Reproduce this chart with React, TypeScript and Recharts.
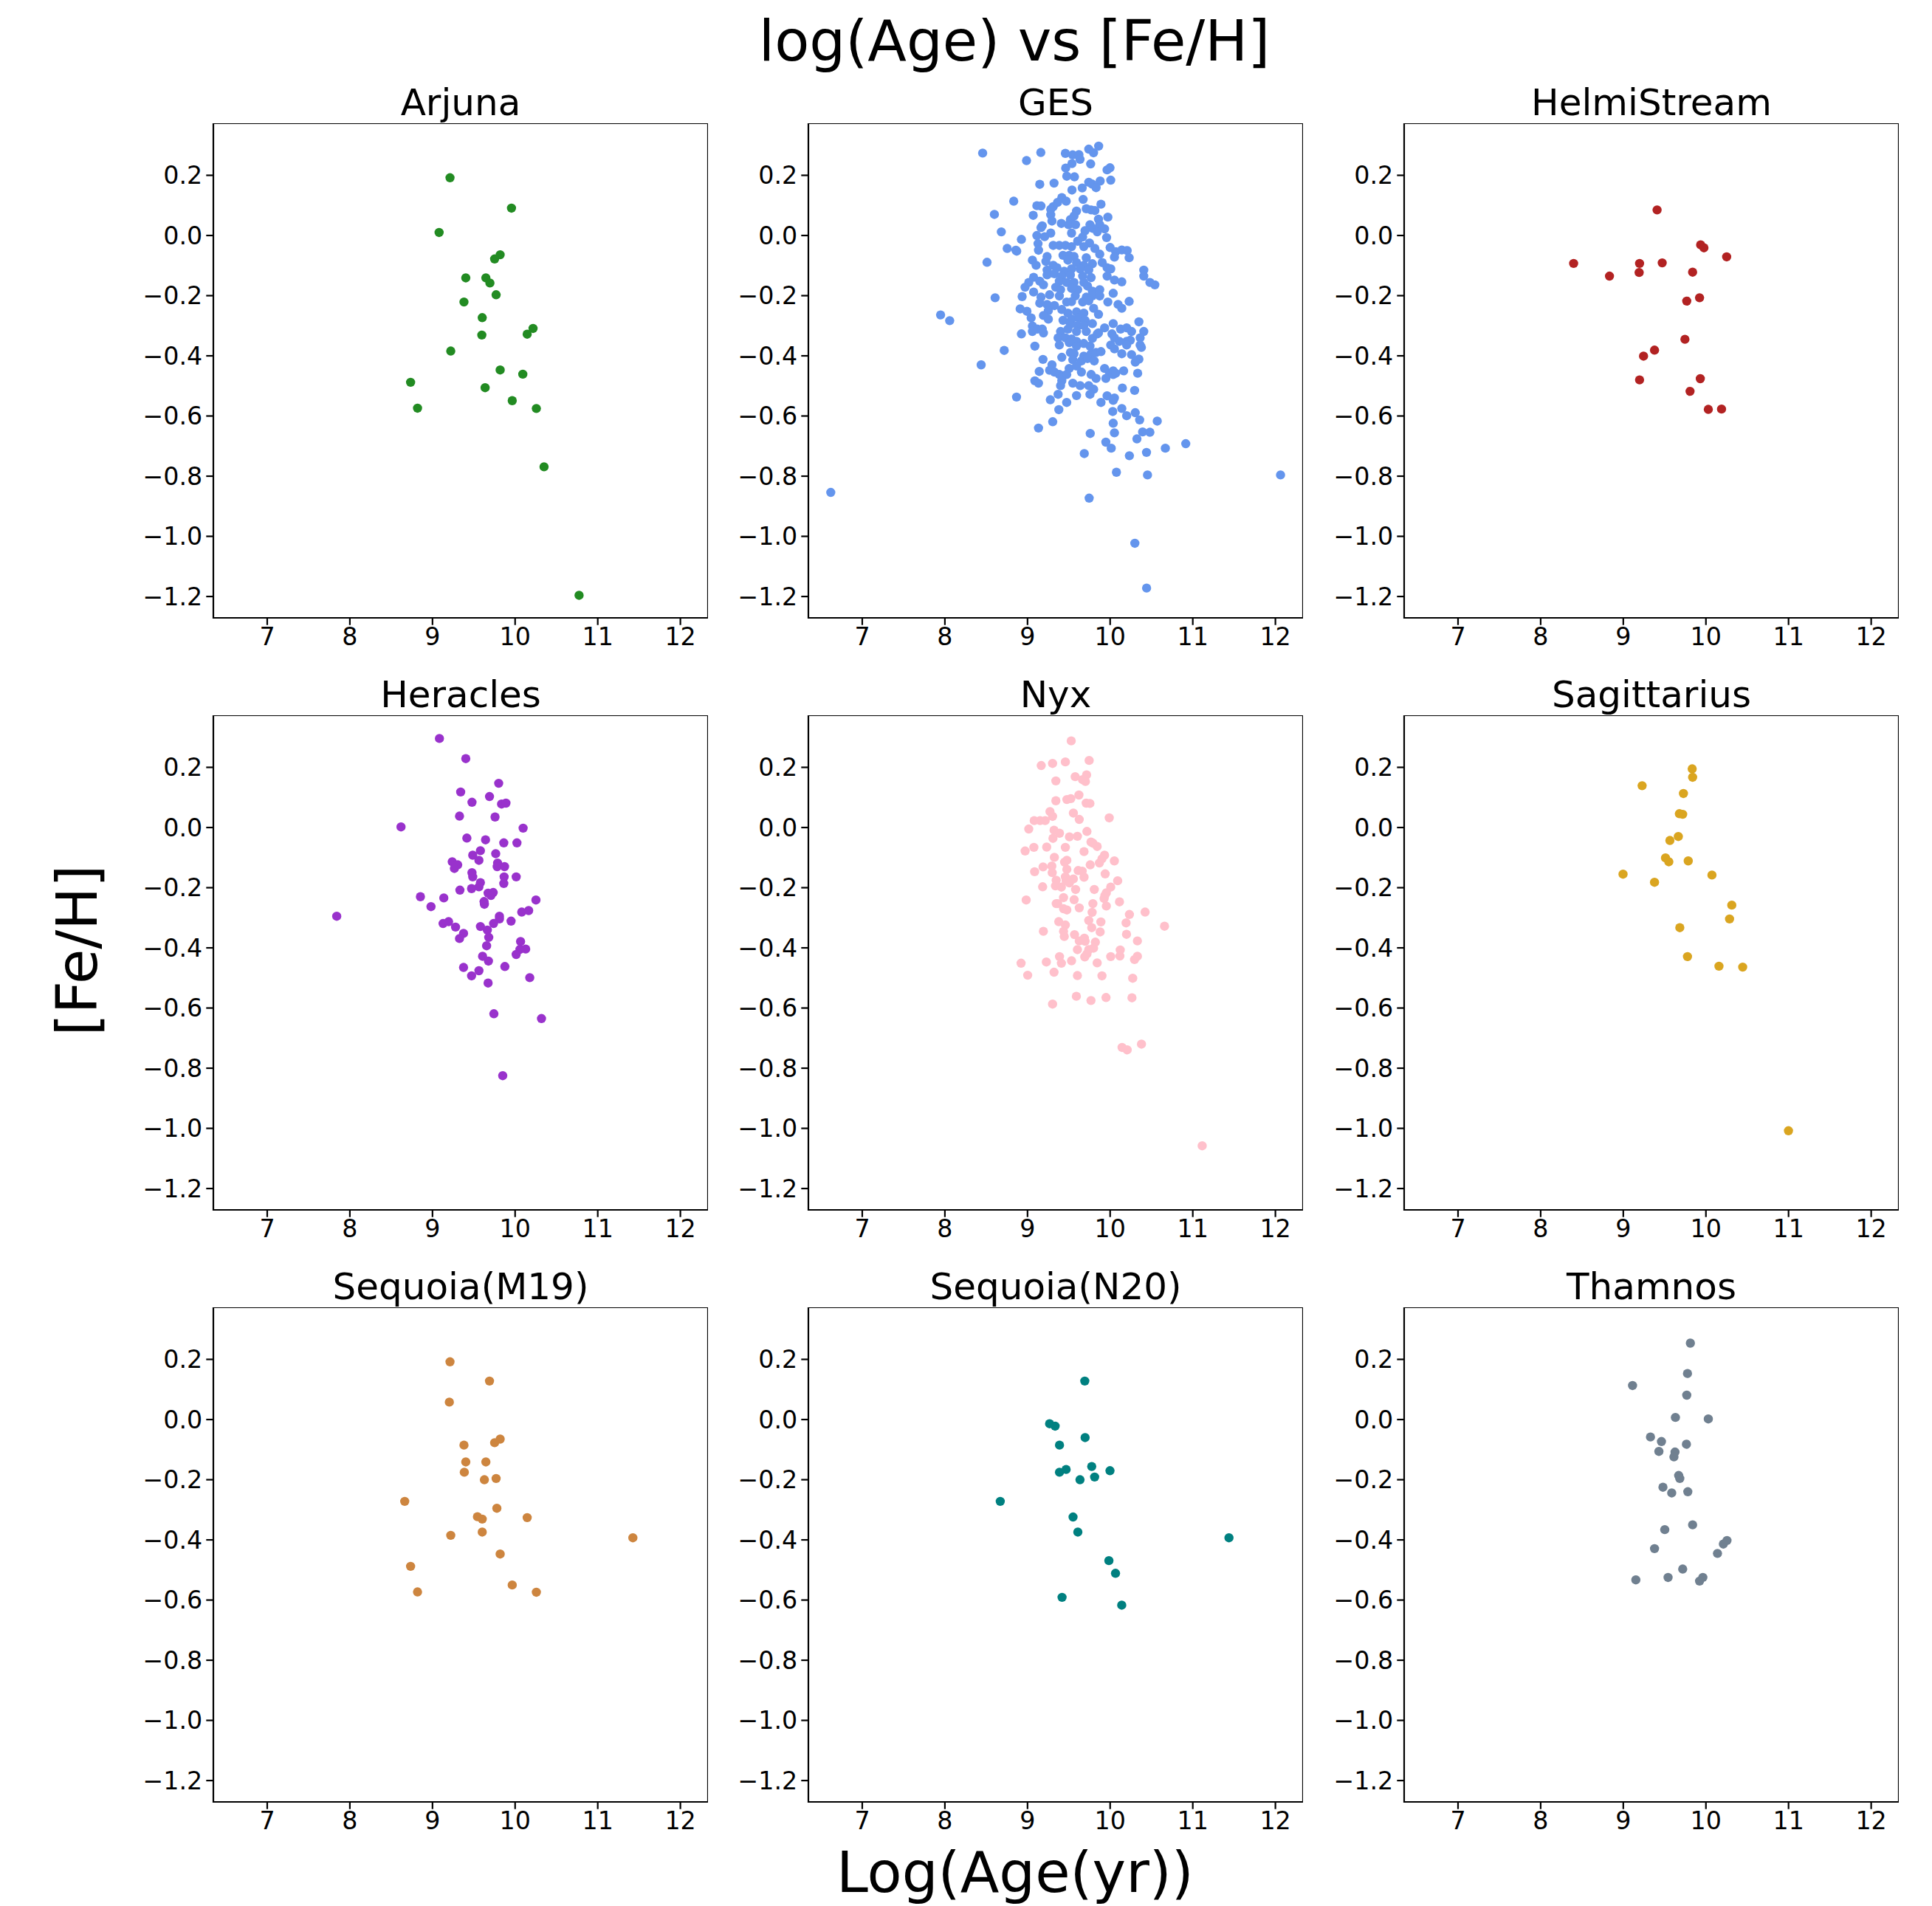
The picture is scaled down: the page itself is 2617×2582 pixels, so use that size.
import React from 'react';
import { ScatterChart, Scatter, XAxis, YAxis, ReferenceArea } from 'recharts';

const FONT = '"DejaVu Sans", sans-serif';

const xTicks = [7, 8, 9, 10, 11, 12];
const yTicks = [-1.2, -1.0, -0.8, -0.6, -0.4, -0.2, 0.0, 0.2];
const xDomain: [number, number] = [6.348, 12.334];
const yDomain: [number, number] = [-1.271, 0.373];

const figTitle = 'log(Age) vs [Fe/H]';
const xLabel = 'Log(Age(yr))';
const yLabel = '[Fe/H]';

const groupNames = ['Arjuna', 'GES', 'HelmiStream', 'Heracles', 'Nyx', 'Sagittarius', 'Sequoia(M19)', 'Sequoia(N20)', 'Thamnos'];
const groupColors = ['#228B22', '#6495ED', '#B22222', '#9932CC', '#FFC0CB', '#DAA520', '#CD853F', '#008080', '#708090'];

// [log(Age), [Fe/H]]
const arjuna: [number, number][] = [
  [9.212, 0.192], [9.956, 0.091], [9.080, 0.010], [9.819, -0.064], [9.752, -0.078], [9.403, -0.141],
  [9.646, -0.141], [9.695, -0.158], [9.770, -0.197], [9.381, -0.221], [9.602, -0.273], [9.597, -0.331],
  [10.217, -0.309], [10.146, -0.328], [9.221, -0.384], [8.735, -0.488], [8.819, -0.574], [9.819, -0.447],
  [10.093, -0.461], [9.637, -0.506], [9.965, -0.549], [10.257, -0.575], [10.350, -0.769], [10.774, -1.196],
];

const ges: [number, number][] = [
  [8.457, 0.274], [8.988, 0.249], [9.161, 0.276], [9.458, 0.273], [9.546, 0.268], [9.622, 0.269],
  [9.635, 0.253], [9.741, 0.287], [9.799, 0.275], [9.861, 0.297], [9.764, 0.238], [9.538, 0.239],
  [9.462, 0.224], [9.475, 0.197], [9.568, 0.195], [9.963, 0.218], [9.998, 0.225], [10.007, 0.184],
  [9.879, 0.181], [9.741, 0.177], [9.781, 0.171], [9.830, 0.159], [9.662, 0.158], [9.538, 0.151],
  [9.321, 0.174], [9.148, 0.170], [8.833, 0.114],
  [8.599, 0.070], [8.683, 0.012], [8.754, -0.043], [8.510, -0.089], [8.608, -0.207], [7.948, -0.264],
  [8.058, -0.283], [8.718, -0.382], [8.439, -0.430], [6.619, -0.854], [8.869, -0.052],
  [10.915, -0.692], [12.062, -0.796], [9.746, -0.873], [10.299, -1.023], [10.441, -1.172],
  [9.673, 0.120], [9.415, 0.126], [9.468, 0.114], [9.364, 0.110], [9.311, 0.096], [9.281, 0.087],
  [9.113, 0.099], [9.163, 0.098], [9.889, 0.104], [9.069, 0.067], [9.281, 0.069], [9.593, 0.081],
  [9.711, 0.089], [9.770, 0.085], [9.815, 0.083], [9.972, 0.061], [9.519, 0.053], [9.563, 0.065],
  [9.296, 0.048], [9.409, 0.040], [9.496, 0.036], [9.581, 0.036], [9.859, 0.054], [9.874, 0.036],
  [9.933, 0.022], [9.178, 0.032], [9.163, 0.026], [9.533, 0.008], [9.281, 0.008], [9.113, -0.000],
  [9.207, -0.004], [9.756, 0.036], [9.785, 0.024], [9.696, 0.016], [9.844, 0.012], [9.957, -0.007],
  [8.926, -0.013], [9.667, -0.005], [9.607, -0.019], [9.127, -0.027], [9.750, -0.025], [9.311, -0.033],
  [9.385, -0.033], [9.459, -0.033], [9.533, -0.037], [9.681, -0.037], [9.815, -0.043], [9.133, -0.049],
  [10.000, -0.040], [8.859, -0.049], [10.067, -0.054], [10.141, -0.048], [10.206, -0.050], [10.230, -0.074],
  [10.052, -0.072], [9.874, -0.062], [9.237, -0.070], [9.430, -0.066], [9.504, -0.066], [9.563, -0.070],
  [9.711, -0.074], [9.059, -0.082], [9.104, -0.099], [9.222, -0.086], [9.311, -0.099], [9.489, -0.082],
  [9.593, -0.090], [9.681, -0.099], [9.785, -0.094], [9.904, -0.090], [9.963, -0.107], [10.007, -0.111],
  [10.407, -0.115], [10.407, -0.135], [9.237, -0.115], [9.356, -0.107], [9.444, -0.119], [9.533, -0.111],
  [9.637, -0.111], [9.741, -0.115], [9.237, -0.131], [9.326, -0.127], [9.415, -0.135], [9.519, -0.131],
  [9.667, -0.135], [9.770, -0.140], [9.963, -0.135], [10.052, -0.148], [10.481, -0.156], [10.541, -0.164],
  [9.074, -0.139], [9.148, -0.152], [9.193, -0.164], [9.015, -0.156], [8.970, -0.172], [9.385, -0.152],
  [9.474, -0.156], [9.563, -0.156], [9.681, -0.156], [9.726, -0.168], [10.141, -0.154], [9.074, -0.188],
  [9.341, -0.172], [9.400, -0.180], [9.533, -0.176], [9.607, -0.180], [9.785, -0.185], [9.874, -0.180],
  [10.037, -0.192], [8.935, -0.203], [9.163, -0.205], [9.267, -0.197], [9.385, -0.201], [9.578, -0.201],
  [9.711, -0.205], [9.785, -0.201], [9.874, -0.201], [9.972, -0.221], [10.096, -0.229], [10.230, -0.219],
  [10.141, -0.242], [9.148, -0.225], [9.237, -0.229], [9.326, -0.233], [9.474, -0.221], [9.533, -0.220],
  [9.667, -0.221], [9.741, -0.217], [9.800, -0.242], [8.911, -0.244], [8.993, -0.252], [9.044, -0.274],
  [9.252, -0.250], [9.415, -0.246], [9.489, -0.258], [9.593, -0.254], [9.681, -0.258], [9.859, -0.262],
  [9.193, -0.266], [9.252, -0.278], [9.430, -0.282], [9.533, -0.278], [9.622, -0.274], [9.696, -0.282],
  [10.348, -0.287], [9.059, -0.301], [9.519, -0.295], [9.607, -0.299], [9.681, -0.299], [9.785, -0.293],
  [10.037, -0.293], [9.933, -0.307], [10.126, -0.311], [10.200, -0.307], [10.259, -0.319], [10.407, -0.319],
  [9.059, -0.319], [9.119, -0.311], [9.178, -0.311], [9.193, -0.324], [9.400, -0.319], [9.489, -0.311],
  [9.593, -0.319], [9.711, -0.319], [9.859, -0.324], [8.926, -0.327], [10.022, -0.327], [10.363, -0.340],
  [9.370, -0.340], [9.459, -0.340], [9.533, -0.344], [9.593, -0.352], [9.785, -0.342], [9.844, -0.327],
  [10.052, -0.340], [10.111, -0.352], [10.200, -0.352], [10.244, -0.348], [9.385, -0.364], [9.504, -0.356],
  [9.593, -0.368], [9.681, -0.359], [9.756, -0.368], [10.007, -0.364], [10.052, -0.377], [10.200, -0.364],
  [10.363, -0.364], [10.378, -0.372], [9.089, -0.368], [10.141, -0.393], [10.259, -0.396], [10.348, -0.411],
  [10.304, -0.421], [9.519, -0.389], [9.563, -0.393], [9.681, -0.401], [9.770, -0.393], [9.830, -0.389],
  [9.889, -0.386], [9.187, -0.412], [9.415, -0.405], [9.548, -0.413], [9.652, -0.417], [9.726, -0.409],
  [9.807, -0.417], [9.296, -0.430], [9.267, -0.448], [9.326, -0.454], [9.504, -0.442], [9.652, -0.454],
  [9.593, -0.434], [9.142, -0.452], [9.933, -0.442], [9.993, -0.458], [10.037, -0.450], [9.948, -0.475],
  [10.037, -0.462], [10.067, -0.458], [10.163, -0.450], [10.333, -0.458], [9.385, -0.462], [9.430, -0.466],
  [9.474, -0.462], [9.770, -0.462], [9.830, -0.475], [9.089, -0.483], [9.133, -0.491], [9.415, -0.483],
  [9.400, -0.499], [9.548, -0.491], [9.637, -0.499], [9.741, -0.499], [9.800, -0.511], [9.756, -0.528],
  [10.148, -0.507], [10.296, -0.515], [9.370, -0.528], [9.593, -0.532], [8.867, -0.537], [9.276, -0.546],
  [9.963, -0.533], [10.052, -0.540], [10.037, -0.548], [9.474, -0.555], [9.889, -0.555], [9.379, -0.579],
  [10.141, -0.575], [10.031, -0.585], [10.200, -0.599], [10.304, -0.589], [10.357, -0.613], [10.570, -0.617],
  [9.305, -0.619], [10.037, -0.624], [9.133, -0.640], [10.052, -0.656], [9.759, -0.658], [10.393, -0.653],
  [10.481, -0.654], [10.324, -0.676], [9.948, -0.687], [10.013, -0.707], [9.687, -0.725], [10.233, -0.732],
  [10.440, -0.721], [10.668, -0.707], [10.076, -0.787], [10.452, -0.796],
];

const helmiStream: [number, number][] = [
  [9.409, 0.085], [9.936, -0.031], [9.976, -0.041], [10.251, -0.071], [8.399, -0.093], [9.197, -0.093],
  [9.471, -0.091], [9.192, -0.123], [9.839, -0.122], [8.833, -0.135], [9.923, -0.207], [9.768, -0.218],
  [9.746, -0.345], [9.378, -0.381], [9.245, -0.401], [9.197, -0.480], [9.932, -0.476], [9.808, -0.518],
  [10.029, -0.578], [10.189, -0.577],
];

const heracles: [number, number][] = [
  [9.084, 0.296], [9.403, 0.229], [9.801, 0.147], [9.341, 0.118], [9.690, 0.103], [9.478, 0.084],
  [9.836, 0.078], [9.889, 0.081], [9.327, 0.038], [9.757, 0.035], [8.619, 0.002], [10.097, -0.002],
  [9.416, -0.035], [9.642, -0.041], [9.863, -0.051], [10.022, -0.051], [9.580, -0.077], [9.765, -0.087],
  [9.487, -0.092], [9.562, -0.109], [9.239, -0.114], [9.305, -0.124], [9.265, -0.136], [9.788, -0.118],
  [9.783, -0.130], [9.872, -0.130], [9.478, -0.150], [9.487, -0.164], [9.867, -0.164], [10.013, -0.164],
  [9.580, -0.183], [9.863, -0.186], [9.562, -0.197], [9.473, -0.203], [9.332, -0.208], [9.673, -0.218],
  [9.735, -0.216], [9.708, -0.226], [8.854, -0.230], [9.137, -0.234], [10.252, -0.241], [9.624, -0.246],
  [9.628, -0.255], [8.982, -0.263], [10.164, -0.276], [10.080, -0.281], [7.841, -0.295], [9.810, -0.295],
  [9.810, -0.304], [9.951, -0.311], [9.128, -0.319], [9.195, -0.313], [9.739, -0.319], [9.580, -0.329],
  [9.279, -0.331], [9.664, -0.341], [9.376, -0.352], [9.327, -0.369], [9.681, -0.365], [10.066, -0.379],
  [9.655, -0.393], [10.058, -0.405], [10.128, -0.404], [10.013, -0.422], [9.606, -0.428], [9.677, -0.444],
  [9.376, -0.465], [9.876, -0.462], [9.562, -0.476], [9.473, -0.493], [10.177, -0.499], [9.673, -0.517],
  [9.743, -0.619], [10.319, -0.635], [9.850, -0.825],
];

const nyx: [number, number][] = [
  [9.529, 0.288], [9.166, 0.206], [9.303, 0.213], [9.458, 0.218], [9.746, 0.223], [9.715, 0.175],
  [9.577, 0.169], [9.666, 0.159], [9.701, 0.153], [9.343, 0.155], [9.622, 0.108], [9.343, 0.089],
  [9.476, 0.093], [9.524, 0.096], [9.710, 0.081], [9.755, 0.080], [9.272, 0.053], [9.303, 0.037],
  [9.555, 0.048], [9.626, 0.027], [9.989, 0.032], [9.081, 0.023], [9.152, 0.023], [9.214, 0.023],
  [9.015, -0.005], [9.321, -0.009], [9.387, -0.019], [9.719, -0.013], [9.308, -0.036], [9.507, -0.031],
  [9.604, -0.029], [9.768, -0.048], [9.791, -0.052], [9.843, -0.063], [8.971, -0.078], [9.077, -0.066],
  [9.232, -0.065], [9.458, -0.066], [9.684, -0.080], [9.932, -0.092], [9.901, -0.104], [9.870, -0.118],
  [10.051, -0.111], [9.325, -0.099], [9.449, -0.115], [9.476, -0.109], [9.294, -0.128], [9.188, -0.131],
  [9.086, -0.147], [9.299, -0.150], [9.476, -0.139], [9.613, -0.143], [9.662, -0.145], [9.759, -0.124],
  [9.940, -0.154], [9.458, -0.164], [9.347, -0.175], [9.467, -0.177], [9.555, -0.171], [9.684, -0.165],
  [9.507, -0.184], [10.091, -0.177], [9.183, -0.197], [9.338, -0.194], [9.410, -0.198], [9.582, -0.206],
  [9.808, -0.206], [10.007, -0.198], [9.954, -0.217], [9.927, -0.236], [9.936, -0.226], [8.984, -0.241],
  [9.436, -0.233], [9.564, -0.240], [9.347, -0.253], [9.365, -0.253], [9.791, -0.253], [10.113, -0.247],
  [9.954, -0.261], [9.626, -0.267], [9.436, -0.270], [9.476, -0.274], [9.782, -0.282], [10.423, -0.281],
  [10.233, -0.289], [9.741, -0.309], [9.888, -0.314], [10.193, -0.317], [9.378, -0.313], [9.458, -0.324],
  [10.658, -0.328], [9.777, -0.333], [9.192, -0.345], [9.436, -0.345], [9.879, -0.347], [9.569, -0.356],
  [10.198, -0.355], [9.445, -0.362], [9.688, -0.368], [9.626, -0.377], [9.697, -0.378], [9.821, -0.381],
  [10.330, -0.377], [9.604, -0.406], [9.741, -0.406], [9.799, -0.401], [10.122, -0.407], [9.719, -0.420],
  [9.693, -0.430], [9.387, -0.429], [10.007, -0.429], [10.118, -0.427], [10.330, -0.428], [10.295, -0.439],
  [8.922, -0.451], [9.228, -0.447], [9.410, -0.451], [9.533, -0.443], [9.843, -0.450], [9.002, -0.491],
  [9.321, -0.481], [9.604, -0.492], [9.901, -0.493], [10.273, -0.501], [9.591, -0.561], [9.950, -0.565],
  [9.768, -0.575], [10.264, -0.566], [9.303, -0.587], [10.144, -0.731], [10.206, -0.739], [10.379, -0.720],
  [11.114, -1.058],
];

const sagittarius: [number, number][] = [
  [9.834, 0.195], [9.839, 0.167], [9.228, 0.139], [9.728, 0.113], [9.679, 0.046], [9.719, 0.044],
  [9.666, -0.030], [9.564, -0.043], [9.511, -0.101], [9.551, -0.114], [9.786, -0.111], [8.997, -0.155],
  [10.073, -0.158], [9.378, -0.182], [10.313, -0.258], [10.286, -0.304], [9.684, -0.333], [9.777, -0.429],
  [10.158, -0.461], [10.445, -0.464], [10.999, -1.008],
];

const sequoiaM19: [number, number][] = [
  [9.212, 0.192], [9.690, 0.128], [9.204, 0.058], [9.819, -0.065], [9.752, -0.077], [9.381, -0.085],
  [9.403, -0.141], [9.646, -0.141], [9.385, -0.175], [9.770, -0.196], [9.628, -0.200], [8.664, -0.272],
  [9.779, -0.295], [9.544, -0.323], [9.602, -0.331], [10.146, -0.326], [9.602, -0.374], [9.221, -0.385],
  [11.425, -0.393], [9.819, -0.447], [8.735, -0.488], [8.819, -0.573], [9.965, -0.550], [10.257, -0.574],
];

const sequoiaN20: [number, number][] = [
  [9.693, 0.128], [9.267, -0.014], [9.334, -0.022], [9.697, -0.060], [9.387, -0.085], [9.777, -0.156],
  [9.467, -0.166], [9.998, -0.170], [9.387, -0.175], [9.812, -0.191], [9.635, -0.200], [8.670, -0.272],
  [9.551, -0.324], [9.609, -0.374], [11.438, -0.393], [9.985, -0.469], [10.065, -0.511], [9.418, -0.591],
  [10.140, -0.617],
];

const thamnos: [number, number][] = [
  [9.812, 0.254], [9.777, 0.153], [9.112, 0.113], [9.768, 0.081], [9.631, 0.007], [10.029, 0.002],
  [9.329, -0.058], [9.462, -0.073], [9.764, -0.082], [9.431, -0.106], [9.626, -0.108], [9.613, -0.124],
  [9.670, -0.186], [9.684, -0.196], [9.480, -0.225], [9.586, -0.244], [9.781, -0.240], [9.839, -0.350],
  [9.502, -0.366], [10.255, -0.402], [10.211, -0.414], [9.378, -0.429], [10.140, -0.445], [9.719, -0.497],
  [9.542, -0.525], [9.963, -0.525], [9.923, -0.537], [9.152, -0.533],
];

const panelData = [arjuna, ges, helmiStream, heracles, nyx, sagittarius, sequoiaM19, sequoiaN20, thamnos];

// layout (px)
const FIG_W = 2617;
const FIG_H = 2582;
const colLefts = [289, 1095, 1902];
const rowTops = [167, 969, 1771];
const PLOT_W = 670;
const PLOT_H = 670;
const Y_AXIS_W = 130;
const X_AXIS_H = 60;
const TICK_FS = 33.3;
const SUB_FS = 50;
const BIG_FS = 77;
const MARKER_R = 6.2;
const LINE_W = 2.2;

function fmtY(v: number): string {
  const s = Math.abs(v).toFixed(1);
  return v < -1e-9 ? '\u2212' + s : s;
}

function Panel({ idx }: { idx: number }) {
  const color = groupColors[idx];
  const data = panelData[idx].map(([x, y]) => ({ x, y }));
  const left = colLefts[idx % 3];
  const top = rowTops[Math.floor(idx / 3)];
  return (
    <>
      <div
        style={{
          position: 'absolute',
          left,
          top: top - 11 - 0.846 * SUB_FS,
          width: PLOT_W,
          textAlign: 'center',
          fontFamily: FONT,
          fontSize: SUB_FS,
          lineHeight: `${SUB_FS}px`,
          whiteSpace: 'nowrap',
          color: '#000',
        }}
      >
        {groupNames[idx]}
      </div>
      <div style={{ position: 'absolute', left: left - Y_AXIS_W, top }}>
        <ScatterChart
          width={Y_AXIS_W + PLOT_W}
          height={PLOT_H + X_AXIS_H}
          margin={{ top: 0, right: 0, bottom: 0, left: 0 }}
        >
          <XAxis
            type="number"
            dataKey="x"
            domain={xDomain}
            ticks={xTicks}
            allowDataOverflow
            interval={0}
            height={X_AXIS_H}
            axisLine={false}
            tickLine={{ stroke: '#000', strokeWidth: LINE_W }}
            tickSize={9.7}
            tickMargin={4}
            tick={{ fontSize: TICK_FS, fill: '#000', fontFamily: FONT }}
          />
          <YAxis
            type="number"
            dataKey="y"
            domain={yDomain}
            ticks={yTicks}
            allowDataOverflow
            interval={0}
            width={Y_AXIS_W}
            axisLine={false}
            tickLine={{ stroke: '#000', strokeWidth: LINE_W }}
            tickSize={9.7}
            tickMargin={5}
            tickFormatter={fmtY}
            tick={{ fontSize: TICK_FS, fill: '#000', fontFamily: FONT }}
          />
          <ReferenceArea
            x1={xDomain[0]}
            x2={xDomain[1]}
            y1={yDomain[0]}
            y2={yDomain[1]}
            fill="none"
            fillOpacity={0}
            stroke="#000"
            strokeWidth={LINE_W}
          />
          <Scatter
            data={data}
            fill={color}
            isAnimationActive={false}
            shape={(p: any) => <circle cx={p.cx} cy={p.cy} r={MARKER_R} fill={color} />}
          />
        </ScatterChart>
      </div>
    </>
  );
}

export default function App() {
  return (
    <div
      style={{
        position: 'absolute',
        left: 0,
        top: 0,
        width: FIG_W,
        height: FIG_H,
        background: '#fff',
        overflow: 'hidden',
      }}
    >
      <div
        style={{
          position: 'absolute',
          left: 1374 - 700,
          top: 82 - 0.846 * BIG_FS,
          width: 1400,
          textAlign: 'center',
          fontFamily: FONT,
          fontSize: BIG_FS,
          lineHeight: `${BIG_FS}px`,
          whiteSpace: 'nowrap',
          color: '#000',
        }}
      >
        {figTitle}
      </div>
      {groupNames.map((_, i) => (
        <Panel key={i} idx={i} />
      ))}
      <div
        style={{
          position: 'absolute',
          left: 1375 - 700,
          top: 2563 - 0.846 * BIG_FS,
          width: 1400,
          textAlign: 'center',
          fontFamily: FONT,
          fontSize: BIG_FS,
          lineHeight: `${BIG_FS}px`,
          whiteSpace: 'nowrap',
          color: '#000',
        }}
      >
        {xLabel}
      </div>
      <div
        style={{
          position: 'absolute',
          left: 104 - 300,
          top: 1287 - BIG_FS / 2,
          width: 600,
          height: BIG_FS,
          textAlign: 'center',
          fontFamily: FONT,
          fontSize: BIG_FS,
          lineHeight: `${BIG_FS}px`,
          whiteSpace: 'nowrap',
          color: '#000',
          transform: 'rotate(-90deg)',
          transformOrigin: '50% 50%',
        }}
      >
        {yLabel}
      </div>
    </div>
  );
}
